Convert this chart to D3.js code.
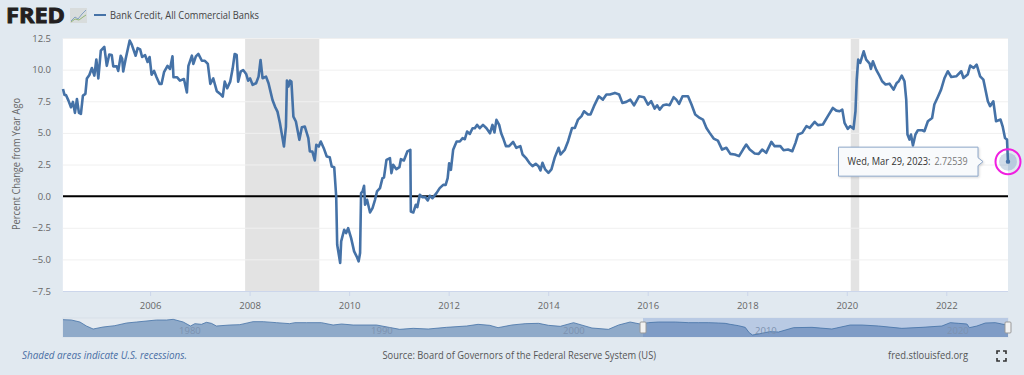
<!DOCTYPE html>
<html>
<head>
<meta charset="utf-8">
<script src="https://cdnjs.cloudflare.com/ajax/libs/d3/7.8.5/d3.min.js"></script>
<style>
  html, body { margin: 0; padding: 0; background: #e1e9f0; overflow: hidden; }
  text { font-family: "Open Sans", sans-serif; }
</style>
</head>
<body>
<div id="d3-container"></div>
<script>
/**
 * DATA
 * */
const seriesName = "Bank Credit, All Commercial Banks";
const yLabel = "Percent Change from Year Ago";
const yTicks = [-7.5, -5, -2.5, 0, 2.5, 5, 7.5, 10, 12.5];
const xTicks = [2006, 2008, 2010, 2012, 2014, 2016, 2018, 2020, 2022];
const navTicks = [1980, 1990, 2000, 2010, 2020];
const recessions = [[2007.91, 2009.4], [2020.08, 2020.25]];

const years = [
  2004.25,2004.28,2004.31,2004.36,2004.41,2004.45,2004.49,2004.53,2004.57,2004.61,2004.65,2004.70,2004.73,2004.78,2004.83,2004.88,2004.92,2004.96,
  2005.01,2005.08,2005.13,2005.18,2005.23,2005.26,2005.33,2005.36,2005.41,2005.44,2005.46,2005.51,2005.59,2005.63,2005.71,2005.75,2005.80,2005.84,2005.90,2005.95,2005.99,
  2006.03,2006.08,2006.13,2006.19,2006.23,2006.28,2006.35,2006.40,2006.45,2006.47,2006.54,2006.60,2006.68,2006.74,2006.77,2006.84,2006.87,2006.92,2006.97,
  2007.04,2007.10,2007.16,2007.21,2007.27,2007.34,2007.41,2007.46,2007.50,2007.55,2007.61,2007.66,2007.70,2007.74,2007.77,2007.82,2007.87,2007.93,2007.97,
  2008.01,2008.06,2008.13,2008.18,2008.22,2008.26,2008.33,2008.38,2008.42,2008.46,2008.51,2008.56,2008.61,2008.65,2008.69,2008.73,2008.75,2008.78,2008.81,2008.84,2008.88,2008.93,
  2009.00,2009.05,2009.11,2009.18,2009.21,2009.26,2009.31,2009.34,2009.39,2009.43,2009.49,2009.55,2009.61,2009.65,2009.70,2009.74,2009.76,2009.82,2009.84,2009.90,2009.94,2009.98,
  2010.04,2010.10,2010.15,2010.19,2010.22,2010.24,2010.27,2010.30,2010.32,2010.36,2010.42,2010.47,2010.52,2010.56,2010.62,2010.67,2010.70,2010.75,2010.82,2010.85,2010.885,2010.95,
  2011.01,2011.04,2011.10,2011.17,2011.23,2011.24,2011.29,2011.34,2011.37,2011.42,2011.475,2011.53,2011.58,2011.62,2011.675,2011.755,2011.82,2011.89,2011.94,2011.98,
  2012.01,2012.045,2012.09,2012.16,2012.225,2012.28,2012.325,2012.37,2012.425,2012.48,2012.525,2012.57,2012.625,2012.69,2012.76,2012.83,2012.88,2012.92,2012.96,
  2013.015,2013.055,2013.095,2013.15,2013.215,2013.295,2013.36,2013.44,2013.485,2013.55,2013.62,2013.685,2013.75,2013.805,2013.845,2013.885,2013.94,
  2014.005,2014.065,2014.13,2014.21,2014.25,2014.335,2014.40,2014.48,2014.535,2014.60,2014.67,2014.72,2014.80,2014.85,2014.92,
  2015.015,2015.10,2015.17,2015.24,2015.34,2015.425,2015.49,2015.57,2015.65,2015.725,2015.825,2015.925,
  2016.005,2016.07,2016.14,2016.19,2016.24,2016.31,2016.375,2016.44,2016.52,2016.575,2016.63,2016.70,2016.81,2016.88,2016.955,
  2017.045,2017.11,2017.18,2017.245,2017.325,2017.41,2017.495,2017.58,2017.66,2017.75,2017.835,2017.915,2017.98,
  2018.05,2018.15,2018.23,2018.30,2018.38,2018.485,2018.55,2018.665,2018.73,2018.82,2018.905,2018.97,
  2019.02,2019.105,2019.19,2019.255,2019.355,2019.42,2019.52,2019.62,2019.72,2019.79,2019.855,2019.91,2019.955,
  2020.02,2020.07,2020.135,2020.175,2020.20,2020.23,2020.27,2020.34,2020.39,2020.46,2020.485,2020.525,2020.59,2020.645,2020.71,2020.78,2020.86,2020.94,
  2021.005,2021.045,2021.105,2021.16,2021.195,2021.22,2021.26,2021.29,2021.33,2021.38,2021.43,2021.515,2021.56,2021.63,2021.715,2021.76,2021.83,2021.895,2021.965,
  2022.03,2022.10,2022.20,2022.30,2022.345,2022.43,2022.48,2022.55,2022.61,2022.68,2022.745,2022.835,2022.88,2022.945,
  2023.0,2023.09,2023.135,2023.18,2023.22,2023.24
];
const values = [
  8.47,8.0,8.0,7.55,7.03,7.45,6.58,7.68,6.58,6.5,7.95,8.08,9.3,9.58,10.13,9.53,10.8,9.3,
  11.5,11.8,10.3,11.2,11.15,10.26,10.26,9.9,11.1,10.85,9.85,10.85,12.3,12.0,11.1,11.7,11.6,11.0,11.15,10.6,11.0,
  9.6,9.9,9.4,8.87,8.87,9.8,10.3,10.05,11.05,9.4,9.4,9.13,9.26,8.2,10.3,11.1,10.45,11.05,11.24,
  10.7,10.7,10.45,8.87,9.3,8.3,8.08,7.87,9.05,8.53,9.05,10.1,11.24,11.16,9.05,9.84,9.97,9.66,9.13,
  9.3,8.8,8.92,9.45,10.76,9.32,9.45,8.92,8.26,7.6,7.08,6.68,5.76,4.84,3.92,5.5,9.13,8.66,9.13,9.05,6.29,5.9,
  4.45,5.45,5.5,4.58,3.53,3.53,2.82,4.05,3.92,4.32,3.79,3.13,3.08,2.34,2.29,-0.03,-3.84,-5.29,-3.58,-2.66,-2.92,-2.53,
  -3.32,-4.37,-4.76,-5.16,-4.5,0.24,0.37,0.82,-0.68,-0.29,-1.29,-0.95,-0.29,0.37,0.63,1.42,1.47,2.87,3.0,1.82,2.47,2.13,
  2.29,2.92,2.82,3.53,3.66,-1.21,-1.29,-0.68,-0.87,0.1,-0.08,-0.08,-0.34,0.03,-0.16,0.24,0.63,0.89,0.89,1.42,
  2.6,2.08,3.66,4.32,4.32,4.58,4.5,5.1,4.92,5.37,5.37,5.63,5.37,5.63,5.37,4.97,5.63,5.03,6.03,
  5.63,4.97,4.58,3.95,3.95,4.29,3.82,3.95,3.29,3.03,2.63,2.37,2.55,2.37,2.03,2.63,2.11,
  1.84,2.11,3.03,3.82,3.29,3.68,4.34,5.39,5.39,6.05,6.32,6.71,6.45,6.45,7.11,
  7.89,7.63,8.03,8.03,8.16,8.03,7.37,7.45,7.63,7.18,7.89,7.82,
  7.24,7.5,6.92,7.18,6.84,7.18,7.24,7.18,7.82,7.63,7.29,7.89,7.89,7.24,6.45,
  6.18,6.05,5.39,5.0,4.55,4.39,3.68,3.82,3.34,3.29,3.16,3.68,4.08,
  3.68,3.37,3.34,3.68,3.42,4.29,3.95,3.95,3.63,3.68,3.55,4.21,
  4.87,5.0,5.53,5.39,5.87,5.61,5.66,6.32,6.97,6.76,6.71,6.84,5.79,
  5.32,5.53,5.32,6.71,9.21,10.79,10.53,11.45,10.79,10.47,10.05,10.66,10.0,9.61,9.08,8.82,8.89,8.42,
  8.95,9.08,9.53,9.08,7.63,4.87,4.47,4.87,4.0,4.87,5.21,5.21,5.13,5.92,6.18,7.24,7.84,8.42,9.34,
  9.87,9.42,9.47,9.87,9.34,9.61,10.32,10.13,10.39,9.47,9.21,7.5,7.11,7.5,
  5.92,6.05,5.47,4.6,4.47,2.72539
];
const lastLabel = "Wed, Mar 29, 2023:";

// long history in the navigator strip under the chart
const navYears = [
  1973.39,1973.83,1974.27,1974.61,1974.96,1975.48,1976.09,1976.7,1977.22,1978.26,1978.78,1979.13,1979.65,1980.03,1980.26,1980.6,1980.86,1981.12,1981.38,
  1982.08,1982.6,1983.29,1983.82,1984.51,1985.2,1985.46,1986.07,1986.85,1987.46,1987.9,1988.5,1989.72,1990.93,1991.63,1992.41,1993.36,1994.41,1995.01,1995.62,1996.05,
  1996.77,1997.46,1998.16,1998.68,1999.29,1999.98,2000.94,2001.8,2002.33,2002.93,2003.45,2003.89,2004.4,2005.28,2005.97,2006.49,2007.0,2007.53,2007.88,2008.14,2008.57,2008.92,
  2009.13,2009.3,2009.53,2010.2,2010.66,2011.44,2012.4,2013.44,2014.39,2015.0,2015.87,2017.08,2018.13,2019.17,2019.6,2020.04,2020.47,2020.6,2020.99,2021.43,2021.95,2022.29,2022.61
];
const navValues = [
  14.7,14.3,11.9,7.1,3.5,5.9,7.5,10.7,11.9,14.3,14.3,15.1,11.9,7.1,9.9,9.1,11.5,10.3,7.1,
  8.3,8.7,12.3,12.3,11.1,9.9,11.1,11.1,11.1,8.3,9.5,8.3,8.3,3.1,4.3,3.5,5.5,7.1,9.1,7.9,5.1,
  8.3,9.9,10.3,7.9,6.7,11.1,4.7,3.1,8.3,11.9,9.5,11.1,11.9,11.9,11.1,11.1,11.1,10.7,10.3,9.1,7.5,5.5,
  -0.9,-3.7,-2.9,0.3,-0.1,5.1,5.5,3.5,8.3,8.3,7.1,4.3,5.5,7.1,11.1,10.3,9.5,5.1,7.1,10.7,11.1,9.5,7.9
];
const navSelected = [2003.6, 2022.61];

/**
 * SETUP
 * */
const width = 1024, height = 375;
const plot = { left: 63, right: 1008, top: 38, bottom: 291 };
const nav = { top: 318, bottom: 337 };
const blue = "#4572a7", gray = "#666";

const svg = d3.select("#d3-container").append("svg")
  .attr("width", width)
  .attr("height", height)
  .style("display", "block");

const xScale = d3.scaleLinear().domain([2004.25, 2023.24]).range([plot.left, plot.right]);
const yScale = d3.scaleLinear().domain([-7.5, 12.5]).range([plot.bottom, plot.top]);

// + PLOT BACKGROUND AND RECESSIONS
svg.append("rect")
  .attr("x", plot.left).attr("y", plot.top)
  .attr("width", plot.right - plot.left).attr("height", plot.bottom - plot.top)
  .attr("fill", "#fff");

svg.selectAll(".recession")
  .data(recessions)
  .join("rect")
  .attr("class", "recession")
  .attr("x", d => xScale(d[0]))
  .attr("y", plot.top)
  .attr("width", d => xScale(d[1]) - xScale(d[0]))
  .attr("height", plot.bottom - plot.top)
  .attr("fill", "#e3e3e3");

// + AXES
const yAxis = d3.axisLeft(yScale)
  .tickValues(yTicks)
  .tickFormat(d3.format(".1f"))
  .tickSize(-(plot.right - plot.left))
  .tickPadding(12);

svg.append("g")
  .attr("transform", `translate(${plot.left},0)`)
  .call(yAxis)
  .call(g => g.select(".domain").remove())
  .call(g => g.selectAll(".tick line").attr("stroke", "#f0f0f0").attr("stroke-width", 1))
  .call(g => g.selectAll("text").attr("fill", gray).attr("font-size", 9.5).attr("font-family", '"Open Sans"'));

const xAxis = d3.axisBottom(xScale)
  .tickValues(xTicks)
  .tickFormat(d3.format("d"))
  .tickSize(5)
  .tickPadding(6);

svg.append("g")
  .attr("transform", `translate(0,${plot.bottom})`)
  .call(xAxis)
  .call(g => g.select(".domain").attr("stroke", "#ccd6eb").attr("d", `M${plot.left},0.5H${plot.right}`))
  .call(g => g.selectAll(".tick line").attr("stroke", "#ccd6eb"))
  .call(g => g.selectAll("text").attr("fill", gray).attr("font-size", 9.5).attr("font-family", '"Open Sans"'));

svg.append("line")
  .attr("x1", plot.left - 0.5).attr("x2", plot.left - 0.5)
  .attr("y1", plot.top).attr("y2", plot.bottom)
  .attr("stroke", "#e6ecf3");

svg.append("text")
  .attr("transform", "translate(20,164) rotate(-90)")
  .attr("text-anchor", "middle")
  .attr("fill", gray)
  .attr("font-size", 10)
  .attr("textLength", 132)
  .attr("lengthAdjust", "spacingAndGlyphs")
  .text(yLabel);

// zero line
svg.append("line")
  .attr("x1", plot.left).attr("x2", plot.right)
  .attr("y1", yScale(0)).attr("y2", yScale(0))
  .attr("stroke", "#000")
  .attr("stroke-width", 2);

// + THE SERIES
const points = years.map((d, i) => [d, values[i]]);
const line = d3.line().x(d => xScale(d[0])).y(d => yScale(d[1]));

svg.append("path")
  .datum(points)
  .attr("d", line)
  .attr("fill", "none")
  .attr("stroke", blue)
  .attr("stroke-width", 2.6)
  .attr("stroke-linejoin", "round");

// + LAST POINT MARKER
const last = points[points.length - 1];
const lastX = xScale(last[0]), lastY = yScale(last[1]);

svg.append("circle").attr("cx", lastX).attr("cy", lastY).attr("r", 9)
  .attr("fill", blue).attr("opacity", 0.25);
svg.append("circle").attr("cx", lastX).attr("cy", lastY).attr("r", 2.2)
  .attr("fill", blue);
svg.append("circle").attr("cx", lastX).attr("cy", lastY).attr("r", 12.5)
  .attr("fill", "none").attr("stroke", "#f01fe0").attr("stroke-width", 2);

// + TOOLTIP
const tip = svg.append("g").attr("transform", `translate(838,${lastY - 15})`);
tip.append("path")
  .attr("d", "M0.5,0.5H140V11L145,15L140,19V29.5H0.5Z")
  .attr("fill", "#f8fafc")
  .attr("stroke", "#8ea8cb")
  .attr("stroke-width", 1)
  .style("filter", "drop-shadow(1px 1px 1px rgba(0,0,0,0.15))");
tip.append("text").attr("x", 9.5).attr("y", 18.5).attr("font-size", 10)
  .attr("textLength", 83).attr("lengthAdjust", "spacingAndGlyphs")
  .attr("fill", "#333").text(lastLabel);
tip.append("text").attr("x", 96.5).attr("y", 18.5).attr("font-size", 10)
  .attr("textLength", 33).attr("lengthAdjust", "spacingAndGlyphs")
  .attr("fill", "#777").text(last[1]);

// + NAVIGATOR
const navX = d3.scaleLinear().domain([1973.39, 2022.61]).range([plot.left, plot.right]);
const navY = d3.scaleLinear().domain([-6.1, 16.7]).range([nav.bottom, nav.top]);
const navPoints = navYears.map((d, i) => [d, navValues[i]]);
const navArea = d3.area().x(d => navX(d[0])).y0(nav.bottom).y1(d => navY(d[1]));
const navLine = d3.line().x(d => navX(d[0])).y(d => navY(d[1]));

svg.append("rect")
  .attr("x", plot.left).attr("y", nav.top)
  .attr("width", plot.right - plot.left).attr("height", nav.bottom - nav.top)
  .attr("fill", "#e4eaf0").attr("stroke", "#d8e0e8");

svg.append("rect")
  .attr("x", navX(navSelected[0])).attr("y", nav.top)
  .attr("width", navX(navSelected[1]) - navX(navSelected[0])).attr("height", nav.bottom - nav.top)
  .attr("fill", "#b9cae4");

svg.append("path").datum(navPoints).attr("d", navArea).attr("fill", "#8faac9");

svg.append("clipPath").attr("id", "navClip").append("rect")
  .attr("x", navX(navSelected[0])).attr("y", nav.top)
  .attr("width", navX(navSelected[1]) - navX(navSelected[0])).attr("height", nav.bottom - nav.top);

svg.append("path").datum(navPoints).attr("d", navArea)
  .attr("fill", "#7f9cc6").attr("clip-path", "url(#navClip)");

svg.append("path").datum(navPoints).attr("d", navLine)
  .attr("fill", "none").attr("stroke", blue).attr("stroke-width", 0.8);

svg.selectAll(".navTick")
  .data(navTicks)
  .join("text")
  .attr("class", "navTick")
  .attr("x", d => navX(d))
  .attr("y", 334)
  .attr("text-anchor", "middle")
  .attr("font-size", 9.5)
  .attr("fill", "#7d92b0")
  .text(d => d);

svg.selectAll(".navHandle")
  .data(navSelected)
  .join("rect")
  .attr("class", "navHandle")
  .attr("x", d => navX(d) - 3)
  .attr("y", 322)
  .attr("width", 6)
  .attr("height", 11)
  .attr("rx", 1)
  .attr("fill", "#f2f2f2")
  .attr("stroke", "#999");

// + HEADER: logo and legend
svg.append("text")
  .attr("x", 6).attr("y", 23)
  .attr("font-family", '"Liberation Sans", sans-serif')
  .attr("font-weight", 700)
  .attr("font-size", 21)
  .attr("fill", "#231f20")
  .attr("stroke", "#231f20")
  .attr("stroke-width", 0.9)
  .attr("textLength", 59)
  .attr("lengthAdjust", "spacingAndGlyphs")
  .text("FRED");

const icon = svg.append("g").attr("transform", "translate(70,8)");
icon.append("rect").attr("width", 17).attr("height", 15).attr("fill", "#d8dcdc");
icon.append("polyline").attr("points", "1,13 5,9 8,11 12,6 16,2")
  .attr("fill", "none").attr("stroke", "#7a9ac0").attr("stroke-width", 0.9);
icon.append("polyline").attr("points", "1,14 5,11 9,12 13,9 16,7")
  .attr("fill", "none").attr("stroke", "#8ab06a").attr("stroke-width", 0.9);

svg.append("line")
  .attr("x1", 94).attr("x2", 106).attr("y1", 15).attr("y2", 15)
  .attr("stroke", blue).attr("stroke-width", 2);

svg.append("text")
  .attr("x", 110).attr("y", 19)
  .attr("font-size", 10.5)
  .attr("fill", "#444")
  .attr("textLength", 149)
  .attr("lengthAdjust", "spacingAndGlyphs")
  .text(seriesName);

// + FOOTER
svg.append("text")
  .attr("x", 22).attr("y", 359)
  .attr("font-size", 10)
  .attr("font-style", "italic")
  .attr("fill", "#4a6fa5")
  .attr("textLength", 165)
  .attr("lengthAdjust", "spacingAndGlyphs")
  .text("Shaded areas indicate U.S. recessions.");

svg.append("text")
  .attr("x", 382.5).attr("y", 359)
  .attr("font-size", 10)
  .attr("fill", "#555")
  .attr("textLength", 273.5)
  .attr("lengthAdjust", "spacingAndGlyphs")
  .text("Source: Board of Governors of the Federal Reserve System (US)");

svg.append("text")
  .attr("x", 888).attr("y", 359)
  .attr("font-size", 10)
  .attr("fill", "#555")
  .attr("textLength", 80)
  .attr("lengthAdjust", "spacingAndGlyphs")
  .text("fred.stlouisfed.org");

// fullscreen icon corners
svg.append("path")
  .attr("d", "M997,354V351H1000M1003,351H1006V354M1006,358V361H1003M1000,361H997V358")
  .attr("fill", "none")
  .attr("stroke", "#333")
  .attr("stroke-width", 1.6);
</script>
</body>
</html>
